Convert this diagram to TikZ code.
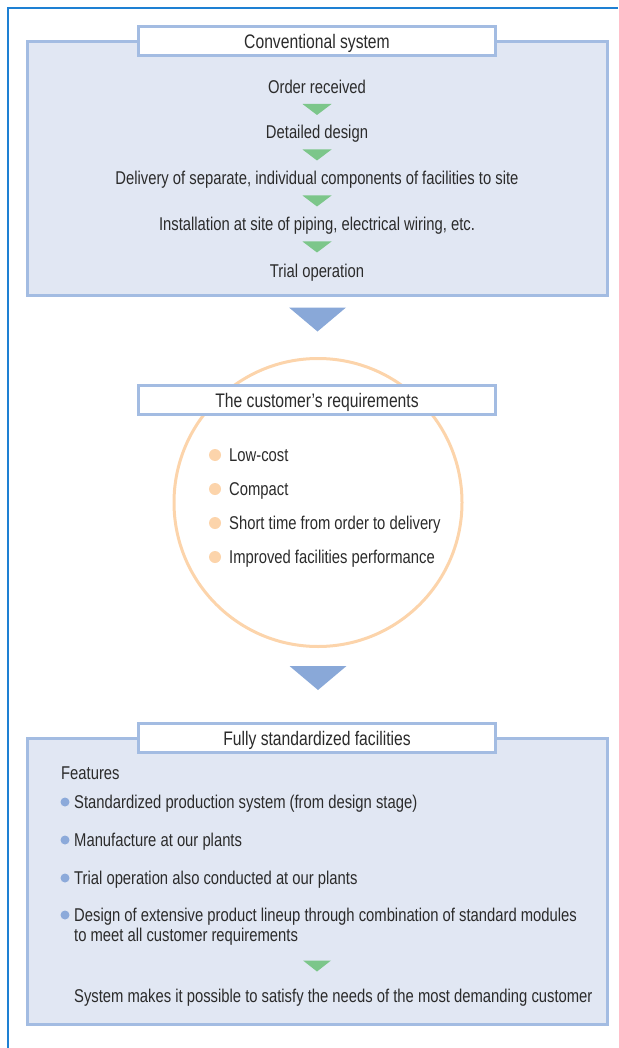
\documentclass[tikz,border=0pt]{standalone}
\usepackage{fontspec}
\setmainfont{Liberation Sans}[FakeStretch=0.8]
\usetikzlibrary{calc}

\definecolor{frameblue}{HTML}{1E80D3}
\definecolor{panelfill}{HTML}{E1E7F3}
\definecolor{panelline}{HTML}{A3BCE2}
\definecolor{stepgreen}{HTML}{7CC68A}
\definecolor{flowblue}{HTML}{89A8D8}
\definecolor{peach}{HTML}{FCD4AB}
\definecolor{dotblue}{HTML}{8CAADA}
\definecolor{txt}{HTML}{2B2B2B}

% filled downward triangle: colour, centre, width, height
\newcommand{\tridown}[4]{%
  \fill[#1] ($(#2)+(-#3/2,-#4/2)$) -- ++(#3,0) -- ++(-#3/2,#4) -- cycle;}

\begin{document}
\begin{tikzpicture}[x=1pt,y=-1pt,
  panel/.style={draw=panelline, fill=panelfill, line width=3pt,
    minimum width=580pt, inner sep=0pt},
  headbox/.style={draw=panelline, fill=white, line width=3pt,
    minimum width=357pt, minimum height=29pt, inner sep=0pt,
    text height=16.5pt, text depth=1pt,
    font=\fontsize{19.6}{23}\selectfont, text=txt},
  label/.style={font=\fontsize{18.5}{22}\selectfont, text=txt, inner sep=0pt},
  reqdot/.style={circle, fill=peach, minimum size=12pt, inner sep=0pt},
  featdot/.style={circle, fill=dotblue, minimum size=9pt, inner sep=0pt}]

\useasboundingbox (0,0) rectangle (618,1048);

% outer frame lines
\draw[frameblue, line width=1.5pt] (8,1048) -- (8,8) -- (618,8);

% ---- conventional system ----
\node[panel, minimum height=254pt] (p1) at (317.5,168.5) {};
\node[headbox] (h1) at (317,41) {Conventional system};
\node[label, anchor=base] (s1) at (317,94)  {Order received};
\node[label, anchor=base] (s2) at (317,139) {Detailed design};
\node[label, anchor=base] (s3) at (317,185) {Delivery of separate, individual components of facilities to site};
\node[label, anchor=base] (s4) at (317,231) {Installation at site of piping, electrical wiring, etc.};
\node[label, anchor=base] (s5) at (317,277) {Trial operation};
\foreach \a/\b in {s1/s2, s2/s3, s3/s4, s4/s5}
  \path ($(\a.base)!0.5!(\b.base)+(0,-7)$) coordinate (m\a);
\tridown{stepgreen}{ms1}{29}{11}
\tridown{stepgreen}{ms2}{29}{11}
\tridown{stepgreen}{ms3}{29}{11}
\tridown{stepgreen}{ms4}{29}{11}

% ---- customer's requirements ----
\path ($(p1.south)+(0,22.5)$) coordinate (f1);
\tridown{flowblue}{f1}{57}{24}
\node[circle, draw=peach, line width=3pt, minimum size=288pt, inner sep=0pt] (c) at (318,502.5) {};
\node[headbox] (h2) at (317,400) {The customer’s requirements};
\foreach \t [count=\i] in {Low-cost, Compact, Short time from order to delivery, Improved facilities performance}{
  \node[reqdot] (r\i) at (215,421+34*\i) {};
  \node[label, anchor=base west] (rt\i) at (229,427+34*\i) {\t};
}

% ---- fully standardized facilities ----
\path ($(c.south)+(0,30)$) coordinate (f2);
\tridown{flowblue}{f2}{57}{24}
\node[panel, minimum height=286pt] (p2) at (317.5,881.5) {};
\node[headbox] (h3) at (317,737.5) {Fully standardized facilities};
\node[label, anchor=base west] (feat) at (61,779) {Features};
\node[featdot] (d1) at (65,802) {};
\node[label, anchor=base west] (t1) at (74,808) {Standardized production system (from design stage)};
\node[featdot] (d2) at (65,840) {};
\node[label, anchor=base west] (t2) at (74,846) {Manufacture at our plants};
\node[featdot] (d3) at (65,878) {};
\node[label, anchor=base west] (t3) at (74,884) {Trial operation also conducted at our plants};
\node[featdot] (d4) at (65,915) {};
\node[label, anchor=base west] (t4) at (74,921) {Design of extensive product lineup through combination of standard modules};
\node[label, anchor=base west] (t5) at (74,941) {to meet all customer requirements};
\path (317,966) coordinate (g1);
\tridown{stepgreen}{g1}{28}{11}
\node[label, anchor=base west] (t6) at (74,1002) {System makes it possible to satisfy the needs of the most demanding customer};
\end{tikzpicture}
\end{document}
